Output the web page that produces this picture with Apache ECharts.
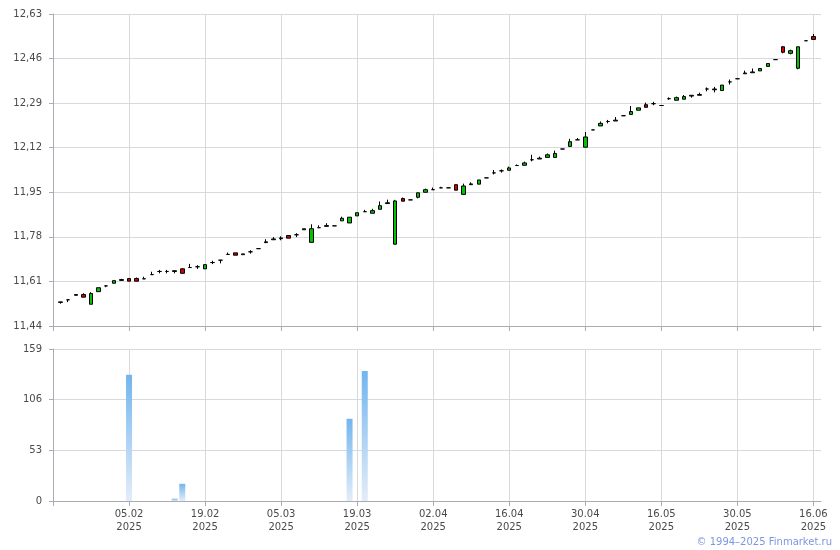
<!DOCTYPE html>
<html>
<head>
<meta charset="utf-8">
<script src="https://cdn.jsdelivr.net/npm/echarts@6/dist/echarts.min.js"></script>
<style>
html,body{margin:0;padding:0;background:#fff;}
#c{width:840px;height:550px;}
</style>
</head>
<body>
<div id="c"></div>
<script>
// Trading dates (one candle each)
var dates = [
'23.01.2025','24.01.2025','27.01.2025','28.01.2025','29.01.2025','30.01.2025','31.01.2025','03.02.2025','04.02.2025','05.02.2025',
'06.02.2025','07.02.2025','10.02.2025','11.02.2025','12.02.2025','13.02.2025','14.02.2025','17.02.2025','18.02.2025','19.02.2025',
'20.02.2025','21.02.2025','24.02.2025','25.02.2025','26.02.2025','27.02.2025','28.02.2025','03.03.2025','04.03.2025','05.03.2025',
'06.03.2025','07.03.2025','10.03.2025','11.03.2025','12.03.2025','13.03.2025','14.03.2025','17.03.2025','18.03.2025','19.03.2025',
'20.03.2025','21.03.2025','24.03.2025','25.03.2025','26.03.2025','27.03.2025','28.03.2025','31.03.2025','01.04.2025','02.04.2025',
'03.04.2025','04.04.2025','07.04.2025','08.04.2025','09.04.2025','10.04.2025','11.04.2025','14.04.2025','15.04.2025','16.04.2025',
'17.04.2025','18.04.2025','21.04.2025','22.04.2025','23.04.2025','24.04.2025','25.04.2025','28.04.2025','29.04.2025','30.04.2025',
'02.05.2025','05.05.2025','06.05.2025','07.05.2025','08.05.2025','12.05.2025','13.05.2025','14.05.2025','15.05.2025','16.05.2025',
'19.05.2025','20.05.2025','21.05.2025','22.05.2025','23.05.2025','26.05.2025','27.05.2025','28.05.2025','29.05.2025','30.05.2025',
'02.06.2025','03.06.2025','04.06.2025','05.06.2025','06.06.2025','09.06.2025','10.06.2025','11.06.2025','13.06.2025','16.06.2025'
];
var openV = [
11.530,11.540,11.557,11.560,11.523,11.571,11.593,11.603,11.614,11.621,
11.621,11.620,11.636,11.648,11.648,11.648,11.658,11.663,11.666,11.658,
11.682,11.691,11.713,11.719,11.712,11.723,11.735,11.758,11.769,11.773,
11.785,11.788,11.807,11.759,11.815,11.820,11.822,11.841,11.833,11.860,
11.876,11.870,11.885,11.907,11.752,11.926,11.921,11.931,11.950,11.960,
11.967,11.967,11.979,11.942,11.979,11.981,12.005,12.024,12.032,12.034,
12.052,12.053,12.074,12.077,12.083,12.083,12.115,12.125,12.150,12.122,
12.188,12.203,12.220,12.222,12.242,12.247,12.263,12.284,12.288,12.281,
12.307,12.301,12.305,12.317,12.320,12.344,12.341,12.338,12.371,12.383,
12.402,12.406,12.413,12.430,12.456,12.505,12.480,12.423,12.528,12.544
];
var closeV = [
11.532,11.540,11.560,11.550,11.564,11.586,11.593,11.613,11.617,11.611,
11.611,11.620,11.636,11.648,11.648,11.651,11.641,11.663,11.666,11.674,
11.682,11.691,11.713,11.710,11.715,11.723,11.735,11.761,11.772,11.776,
11.775,11.788,11.811,11.811,11.815,11.823,11.822,11.851,11.855,11.872,
11.876,11.880,11.899,11.910,11.917,11.916,11.921,11.948,11.960,11.960,
11.967,11.967,11.958,11.974,11.982,11.997,12.005,12.024,12.032,12.043,
12.052,12.062,12.074,12.080,12.093,12.098,12.115,12.143,12.150,12.161,
12.188,12.213,12.220,12.225,12.242,12.258,12.272,12.274,12.288,12.281,
12.307,12.311,12.315,12.320,12.323,12.344,12.344,12.359,12.371,12.383,
12.405,12.409,12.422,12.441,12.456,12.484,12.490,12.505,12.528,12.533
];
var lowV = [
11.525,11.531,11.557,11.550,11.523,11.571,11.588,11.603,11.614,11.611,
11.611,11.620,11.636,11.641,11.641,11.641,11.639,11.663,11.658,11.658,
11.676,11.679,11.713,11.710,11.712,11.716,11.735,11.758,11.769,11.767,
11.775,11.779,11.807,11.759,11.815,11.820,11.822,11.841,11.833,11.860,
11.876,11.870,11.885,11.907,11.752,11.916,11.921,11.927,11.950,11.960,
11.967,11.967,11.958,11.942,11.979,11.981,12.005,12.018,12.025,12.034,
12.052,12.053,12.068,12.077,12.083,12.083,12.115,12.125,12.150,12.122,
12.188,12.203,12.213,12.222,12.242,12.247,12.263,12.274,12.282,12.281,
12.303,12.301,12.305,12.311,12.320,12.335,12.331,12.338,12.361,12.383,
12.402,12.406,12.413,12.430,12.456,12.480,12.476,12.419,12.528,12.533
];
var highV = [
11.533,11.540,11.560,11.565,11.569,11.586,11.593,11.613,11.620,11.621,
11.625,11.628,11.647,11.654,11.654,11.651,11.660,11.677,11.672,11.674,
11.689,11.691,11.720,11.719,11.715,11.729,11.735,11.771,11.779,11.782,
11.785,11.794,11.811,11.828,11.824,11.832,11.822,11.857,11.855,11.872,
11.883,11.887,11.915,11.922,11.921,11.930,11.921,11.948,11.964,11.968,
11.971,11.967,11.979,11.983,11.988,11.997,12.005,12.035,12.037,12.048,
12.056,12.067,12.093,12.086,12.098,12.109,12.115,12.154,12.157,12.180,
12.188,12.220,12.226,12.237,12.242,12.279,12.272,12.292,12.295,12.281,
12.312,12.315,12.321,12.320,12.330,12.350,12.352,12.359,12.380,12.383,
12.414,12.422,12.422,12.441,12.456,12.508,12.494,12.505,12.528,12.554
];
var volumeV = [
0,0,0,0,0,0,0,0,0,132,
0,0,0,0,0,2.4,18,0,0,0,
0,0,0,0,0,0,0,0,0,0,
0,0,0,0,0,0,0,0,86,0,
136,0,0,0,0,0,0,0,0,0,
0,0,0,0,0,0,0,0,0,0,
0,0,0,0,0,0,0,0,0,0,
0,0,0,0,0,0,0,0,0,0,
0,0,0,0,0,0,0,0,0,0,
0,0,0,0,0,0,0,0,0,0
];
var priceTicks = {min: 11.44, max: 12.63, interval: 0.17};
var volTicks = {min: 0, max: 159, interval: 53};
var copyright = '\u00a9 1994\u20132025 Finmarket.ru';

// one empty slot on each side
var cats = [''].concat(dates).concat(['']);
var candleData = [['-','-','-','-']];
var volData = ['-'];
for (var i = 0; i < dates.length; i++) {
  candleData.push([openV[i], closeV[i], lowV[i], highV[i]]);
  volData.push(volumeV[i]);
}
candleData.push(['-','-','-','-']);
volData.push('-');

var FONT = 'DejaVu Sans';
var LBL = '#4a4a4a';
var GRIDC = '#d6d9dd';
var AXC = '#a9acb2';

function tickIdx(i){ return i % 10 === 0; }
function labIdx(i){ return i % 10 === 0 && i > 0; }

var chart = echarts.init(document.getElementById('c'), null, {renderer: 'canvas'});
chart.setOption({
  animation: false,
  backgroundColor: '#fff',
  grid: [
    {left: 53, top: 14, width: 768, height: 312},
    {left: 53, top: 349, width: 768, height: 152}
  ],
  xAxis: [
    {
      type: 'category', gridIndex: 0, data: cats, boundaryGap: false,
      axisLine: {lineStyle: {color: AXC}},
      axisTick: {show: true, interval: tickIdx, length: 5, lineStyle: {color: AXC}},
      axisLabel: {show: false},
      splitLine: {show: true, interval: labIdx, lineStyle: {color: GRIDC}}
    },
    {
      type: 'category', gridIndex: 1, data: cats, boundaryGap: false,
      axisLine: {lineStyle: {color: AXC}},
      axisTick: {show: true, interval: tickIdx, length: 5, lineStyle: {color: AXC}},
      axisLabel: {
        show: true, interval: labIdx, color: LBL, fontFamily: FONT, fontSize: 10,
        lineHeight: 13, margin: 7,
        formatter: function(v){ return v ? v.slice(0,5) + '\n' + v.slice(6) : ''; }
      },
      splitLine: {show: true, interval: labIdx, lineStyle: {color: GRIDC}}
    }
  ],
  yAxis: [
    {
      type: 'value', gridIndex: 0, min: priceTicks.min, max: priceTicks.max, interval: priceTicks.interval,
      axisLine: {show: true, lineStyle: {color: AXC}},
      axisTick: {show: true, length: 4, lineStyle: {color: AXC}},
      axisLabel: {color: LBL, fontFamily: FONT, fontSize: 10, margin: 11,
        formatter: function(v){ return v.toFixed(2).replace('.', ','); }},
      splitLine: {show: true, lineStyle: {color: GRIDC}}
    },
    {
      type: 'value', gridIndex: 1, min: volTicks.min, max: volTicks.max, interval: volTicks.interval,
      axisLine: {show: true, lineStyle: {color: AXC}},
      axisTick: {show: true, length: 4, lineStyle: {color: AXC}},
      axisLabel: {color: LBL, fontFamily: FONT, fontSize: 10, margin: 11},
      splitLine: {show: true, lineStyle: {color: GRIDC}}
    }
  ],
  series: [
    {
      type: 'candlestick', xAxisIndex: 0, yAxisIndex: 0, data: candleData,
      barWidth: 4,
      itemStyle: {
        color: '#00c400', color0: '#d40000',
        borderColor: '#000', borderColor0: '#000', borderColorDoji: '#000',
        borderWidth: 1
      }
    },
    {
      type: 'bar', xAxisIndex: 1, yAxisIndex: 1, data: volData, barWidth: 6,
      itemStyle: {
        color: new echarts.graphic.LinearGradient(0, 0, 0, 1, [
          {offset: 0, color: '#72b5ee'},
          {offset: 1, color: '#e3edf9'}
        ])
      }
    }
  ],
  graphic: [
    {
      type: 'text', right: 8, top: 537,
      style: {text: copyright, fill: '#7b97e2', font: '10px "DejaVu Sans"'}
    }
  ]
});
</script>
</body>
</html>
